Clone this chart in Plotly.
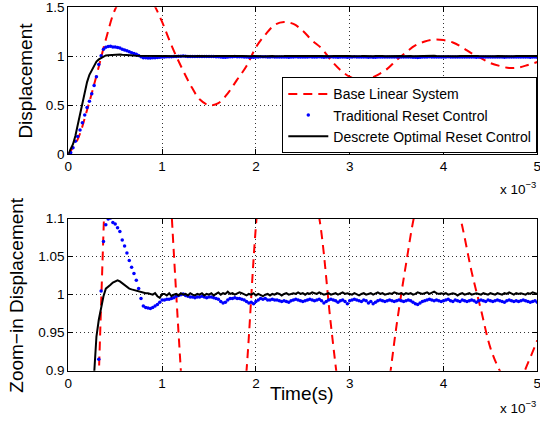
import plotly.graph_objects as go

# ---------------- data ----------------
# sample grids (seconds)
time_fine = [i * 2.5e-5 for i in range(201)]      # 0 .. 5e-3 s, step 0.025 ms
time_base = [i * 1.0e-4 for i in range(51)]       # 0 .. 5e-3 s, step 0.1 ms

base_linear = [0.00, 0.15, 0.45, 0.80, 1.17, 1.48, 1.63, 1.70, 1.68, 1.55,
               1.35, 1.11, 0.90, 0.71, 0.56, 0.50, 0.52, 0.62, 0.76, 0.90,
               1.09, 1.22, 1.32, 1.35, 1.33, 1.26, 1.16, 1.08, 0.96, 0.86,
               0.79, 0.76, 0.77, 0.81, 0.87, 0.96, 1.04, 1.11, 1.15, 1.17,
               1.165, 1.14, 1.09, 1.03, 0.98, 0.93, 0.90, 0.88, 0.885, 0.91,
               0.94]

traditional_reset = [
    0.000, 0.015, 0.065, 0.130, 0.180, 0.245, 0.320, 0.400, 0.475, 0.540,
    0.615, 0.700, 0.790, 0.915, 1.005, 1.070, 1.092, 1.0995, 1.101, 1.095,
    1.093, 1.088, 1.083, 1.072, 1.064, 1.055, 1.045, 1.036, 1.028, 1.019,
    1.008, 0.995, 0.985, 0.983, 0.9825, 0.982, 0.983, 0.985, 0.987, 0.990,
    0.993,
    0.993, 0.994, 0.994, 0.995, 0.996, 0.998, 0.999, 1.000,
    1.001, 0.999, 0.998, 0.997, 0.997, 0.996, 0.997, 0.997,
    0.998, 0.997, 0.996, 0.997, 0.997, 0.996, 0.995, 0.994,
    0.991, 0.989, 0.990, 0.993, 0.995, 0.995, 0.996, 0.995,
    0.995, 0.994, 0.993, 0.991, 0.989, 0.990, 0.988, 0.991,
    0.993, 0.995, 0.994, 0.995, 0.993, 0.993, 0.994, 0.993,
    0.993, 0.992, 0.991, 0.992, 0.991, 0.990, 0.992, 0.993,
    0.994, 0.993, 0.992, 0.991, 0.992, 0.993, 0.994, 0.993,
    0.992, 0.993, 0.994, 0.992, 0.989, 0.991, 0.993, 0.994,
    0.993, 0.992, 0.990, 0.992, 0.993, 0.991, 0.988, 0.992,
    0.993, 0.994, 0.993, 0.992, 0.991, 0.993, 0.992, 0.989,
    0.991, 0.988, 0.990, 0.992, 0.993, 0.992, 0.991, 0.992,
    0.993, 0.992, 0.991, 0.992, 0.993, 0.992, 0.991, 0.992,
    0.993, 0.992, 0.990, 0.988, 0.987, 0.989, 0.991, 0.992,
    0.993, 0.994, 0.993, 0.992, 0.993, 0.992, 0.991, 0.992,
    0.993, 0.994, 0.992, 0.991, 0.993, 0.992, 0.991, 0.993,
    0.992, 0.991, 0.992, 0.993, 0.992, 0.990, 0.992, 0.993,
    0.992, 0.991, 0.993, 0.992, 0.991, 0.992, 0.993, 0.992,
    0.991, 0.990, 0.992, 0.993, 0.992, 0.991, 0.992, 0.991,
    0.992, 0.993, 0.992, 0.991, 0.990, 0.991, 0.992, 0.990]

optimal_reset = [
    0.000, 0.045, 0.100, 0.185, 0.300, 0.416, 0.535, 0.645, 0.735, 0.810,
    0.860, 0.895, 0.945, 0.967, 0.982, 0.998, 1.008, 1.010, 1.013, 1.016,
    1.018, 1.019, 1.0175, 1.015, 1.012, 1.010, 1.008, 1.007, 1.006, 1.005,
    1.004, 1.004, 1.003, 1.002, 1.002, 1.001, 1.000, 1.002, 0.998, 0.996,
    1.001,
    1.001, 0.999, 1.002, 0.998, 1.000, 1.001, 0.999, 1.002,
    1.000, 1.001, 0.999, 1.002, 1.000, 0.999, 1.001, 1.000,
    1.002, 0.999, 1.001, 1.000, 1.002, 0.999, 1.001, 1.003,
    1.000, 1.002, 1.001, 1.004, 1.001, 1.002, 1.000, 1.001,
    1.003, 1.002, 1.000, 0.999, 1.001, 1.000, 1.002, 0.999,
    1.001, 1.000, 0.998, 1.000, 1.001, 0.999, 1.001, 1.000,
    1.002, 1.001, 0.999, 1.001, 1.002, 1.000, 1.001, 1.002,
    1.001, 1.003, 1.001, 1.002, 1.000, 1.002, 1.001, 1.003,
    1.002, 1.001, 1.003, 1.002, 1.000, 1.001, 1.002, 1.000,
    1.001, 1.002, 1.000, 1.001, 1.003, 1.001, 1.002, 1.001,
    1.000, 1.002, 1.001, 0.999, 1.001, 1.002, 1.000, 1.001,
    1.002, 1.000, 1.001, 1.003, 1.001, 1.002, 1.000, 1.001,
    1.002, 1.001, 1.003, 1.002, 1.001, 1.002, 1.000, 1.002,
    1.001, 1.002, 1.000, 1.001, 1.003, 1.002, 1.001, 1.002,
    1.003, 1.001, 1.002, 1.004, 1.002, 1.001, 1.002, 1.001,
    1.002, 1.000, 1.001, 1.002, 1.001, 0.999, 1.001, 1.002,
    1.000, 1.001, 1.002, 1.000, 1.001, 1.002, 1.001, 1.000,
    1.002, 1.001, 1.000, 1.002, 1.001, 1.000, 1.002, 1.001,
    1.000, 1.002, 1.001, 1.003, 1.001, 1.000, 1.002, 1.001,
    1.002, 1.001, 1.000, 1.002, 1.001, 1.003, 1.002, 1.001]

series_names = ["Base Linear System", "Traditional Reset Control",
                "Descrete Optimal Reset Control"]

x_tick_vals = [0, 0.001, 0.002, 0.003, 0.004, 0.005]
x_tick_text = ["0", "1", "2", "3", "4", "5"]
y1_tick_vals = [0, 0.5, 1, 1.5]
y1_tick_text = ["0", "0.5", "1", "1.5"]
y2_tick_vals = [0.9, 0.95, 1, 1.05, 1.1]
y2_tick_text = ["0.9", "0.95", "1", "1.05", "1.1"]

# ---------------- figure ----------------
W, H = 540, 422
FONT = "Liberation Sans, Arial, Helvetica, sans-serif"

fig = go.Figure()

for axis_idx, (xa, ya) in enumerate([("x", "y"), ("x2", "y2")]):
    show = axis_idx == 0
    fig.add_trace(go.Scatter(
        x=time_base, y=base_linear, mode="lines", name=series_names[0],
        line=dict(color="#ff0000", width=2, dash="9px,6px", shape="spline", smoothing=1.0),
        xaxis=xa, yaxis=ya, showlegend=show))
    fig.add_trace(go.Scatter(
        x=time_fine, y=traditional_reset, mode="markers", name=series_names[1],
        marker=dict(color="#0000ff", size=3.5),
        xaxis=xa, yaxis=ya, showlegend=show))
    fig.add_trace(go.Scatter(
        x=time_fine, y=optimal_reset, mode="lines", name=series_names[2],
        line=dict(color="#000000", width=2),
        xaxis=xa, yaxis=ya, showlegend=show))

def px_x(p):
    return p / W

def px_y(p):
    return 1 - p / H

x_dom = [px_x(68.3), px_x(537.3)]
y1_dom = [px_y(154), px_y(7.3)]
y2_dom = [px_y(370.7), px_y(218.7)]

common = dict(
    showline=True, linecolor="black", linewidth=1, mirror="allticks",
    ticks="inside", ticklen=5, tickcolor="black", tickwidth=1,
    showgrid=True, gridcolor="#333333", gridwidth=1, griddash="1px,3px",
    zeroline=False, automargin=False, ticklabeloverflow="allow",
    tickfont=dict(family=FONT, size=13.5, color="black"),
)

fig.update_layout(
    template="none",
    width=W, height=H,
    margin=dict(l=0, r=0, t=0, b=0, pad=0),
    paper_bgcolor="white", plot_bgcolor="white",
    font=dict(family=FONT, size=14, color="black"),
    xaxis=dict(domain=x_dom, anchor="y", range=[0, 0.005],
               tickvals=x_tick_vals, ticktext=x_tick_text, **common),
    yaxis=dict(domain=y1_dom, anchor="x", range=[0, 1.5],
               tickvals=y1_tick_vals, ticktext=y1_tick_text, **common),
    xaxis2=dict(domain=x_dom, anchor="y2", range=[0, 0.005],
                tickvals=x_tick_vals, ticktext=x_tick_text, **common),
    yaxis2=dict(domain=y2_dom, anchor="x2", range=[0.9, 1.1],
                tickvals=y2_tick_vals, ticktext=y2_tick_text, **common),
    legend=dict(
        x=px_x(537.3), xanchor="right", y=px_y(153.3), yanchor="bottom",
        bgcolor="white", bordercolor="black", borderwidth=1,
        font=dict(family=FONT, size=14, color="black"),
        itemwidth=40, tracegroupgap=0,
    ),
    showlegend=True,
)

annos = [
    dict(text="Displacement", x=px_x(26), y=px_y(80.6), textangle=-90,
         font=dict(family=FONT, size=19, color="black")),
    dict(text="Zoom\u2212in Displacement", x=px_x(17), y=px_y(294.7), textangle=-90,
         font=dict(family=FONT, size=19, color="black")),
    dict(text="Time(s)", x=px_x(302), y=px_y(393),
         font=dict(family=FONT, size=19, color="black")),
    dict(text="x 10<sup>\u22123</sup>", x=px_x(538), y=px_y(188), xanchor="right",
         font=dict(family=FONT, size=13.5, color="black")),
    dict(text="x 10<sup>\u22123</sup>", x=px_x(538), y=px_y(407), xanchor="right",
         font=dict(family=FONT, size=13.5, color="black")),
]
for a in annos:
    a.setdefault("xanchor", "center")
    fig.add_annotation(xref="paper", yref="paper", showarrow=False,
                       yanchor="middle", **a)

fig.write_html("out.html", config={"displayModeBar": False},
               post_script="document.body.style.margin='0';document.body.style.overflow='hidden';")
